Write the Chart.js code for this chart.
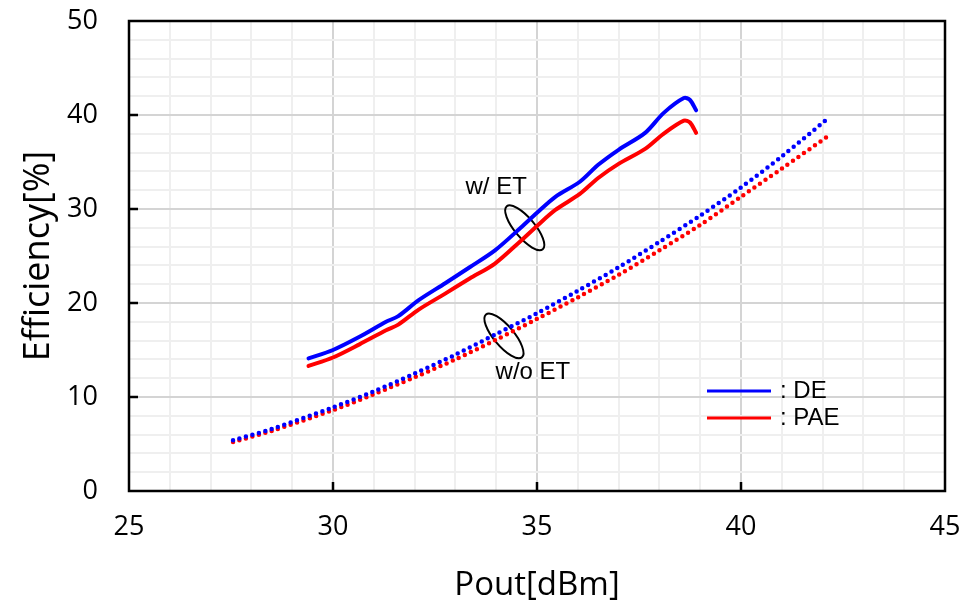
<!DOCTYPE html>
<html>
<head>
<meta charset="utf-8">
<script src="https://cdn.jsdelivr.net/npm/chart.js@4.4.1/dist/chart.umd.min.js"></script>
<style>
  html, body { margin: 0; padding: 0; background: #fff; }
  #wrap { width: 978px; height: 611px; position: relative; }
</style>
</head>
<body>
<div id="wrap"><canvas id="effChart"></canvas></div>
<script>
// Pout [dBm] and efficiency [%]
const etPout = [29.4, 30.0, 30.65, 31.3, 31.6, 32.1, 32.75, 33.35, 33.97, 34.6, 35.0, 35.45, 36.05, 36.5, 37.0, 37.65, 38.1, 38.6, 38.75, 38.9];
const etDE   = [14.1, 15.0, 16.4, 18.0, 18.6, 20.3, 22.1, 23.8, 25.6, 28.0, 29.6, 31.3, 32.9, 34.7, 36.3, 38.1, 40.2, 41.8, 41.6, 40.5];
const etPAE  = [13.3, 14.2, 15.6, 17.1, 17.7, 19.3, 21.0, 22.6, 24.2, 26.6, 28.2, 29.9, 31.6, 33.3, 34.8, 36.4, 38.0, 39.4, 39.2, 38.1];

const noEtPout = [27.55, 28.5, 30, 31, 32, 33, 34, 35, 36, 37, 38, 39, 40, 41, 42.15];
const noEtDE   = [5.4, 6.6, 8.9, 10.6, 12.5, 14.5, 16.7, 18.9, 21.3, 23.8, 26.5, 29.3, 32.3, 35.6, 39.7];
const noEtPAE  = [5.2, 6.4, 8.6, 10.3, 12.1, 14.0, 16.1, 18.3, 20.6, 23.0, 25.6, 28.3, 31.3, 34.3, 37.8];

const xMajor = [25, 30, 35, 40, 45];
const yMajor = [0, 10, 20, 30, 40, 50];

const pts = (xs, ys) => xs.map((x, i) => ({ x: x, y: ys[i] }));

// bracket annotations: [label, label x, label y, ellipse x, ellipse y]
const notes = [
  ["w/ ET", 34.0, 32.3, 34.7, 28.0],
  ["w/o ET", 34.9, 12.6, 34.19, 16.5]
];
const legendItems = [["DE", "#0000ff"], ["PAE", "#ff0000"]];

const DOT = { borderWidth: 4.5, borderDash: [0, 6.7], borderCapStyle: "round", pointRadius: 0, tension: 0.3, fill: false };
const SOLID = { borderWidth: 4, pointRadius: 0, tension: 0.3, fill: false, borderCapStyle: "round" };

const decor = {
  id: "decor",
  beforeDatasetsDraw(chart) {
    const { ctx, scales: { x, y } } = chart;
    ctx.save();
    ctx.strokeStyle = "#000";
    ctx.lineWidth = 2;
    notes.forEach(n => {
      ctx.beginPath();
      ctx.ellipse(x.getPixelForValue(n[3]), y.getPixelForValue(n[4]), 28, 10, 50 * Math.PI / 180, 0, Math.PI * 2);
      ctx.stroke();
    });
    ctx.restore();
  },
  afterDraw(chart) {
    const { ctx, chartArea: a, scales: { x, y } } = chart;
    ctx.save();
    // frame
    ctx.strokeStyle = "#000";
    ctx.lineWidth = 2.5;
    ctx.strokeRect(a.left, a.top, a.right - a.left, a.bottom - a.top);
    // inward tick marks
    ctx.beginPath();
    xMajor.slice(1, -1).forEach(v => {
      const px = x.getPixelForValue(v);
      ctx.moveTo(px, a.bottom); ctx.lineTo(px, a.bottom - 9);
    });
    yMajor.slice(1, -1).forEach(v => {
      const py = y.getPixelForValue(v);
      ctx.moveTo(a.left, py); ctx.lineTo(a.left + 9, py);
    });
    ctx.stroke();
    // text labels
    ctx.fillStyle = "#000";
    ctx.font = "24px 'Liberation Sans', Arial, sans-serif";
    ctx.textAlign = "center";
    ctx.textBaseline = "middle";
    notes.forEach(n => ctx.fillText(n[0], x.getPixelForValue(n[1]), y.getPixelForValue(n[2])));
    // legend
    ctx.textAlign = "left";
    legendItems.forEach((it, i) => {
      const ly = 391 + i * 27;
      ctx.strokeStyle = it[1];
      ctx.lineWidth = 3;
      ctx.beginPath();
      ctx.moveTo(707, ly); ctx.lineTo(771, ly);
      ctx.stroke();
      ctx.fillText(": " + it[0], 780, ly);
    });
    ctx.restore();
  }
};

new Chart(document.getElementById("effChart"), {
  type: "scatter",
  data: {
    datasets: [
      { label: "DE w/o ET", data: pts(noEtPout, noEtDE), borderColor: "#0000ff", showLine: true, ...DOT },
      { label: "PAE w/o ET", data: pts(noEtPout, noEtPAE), borderColor: "#ff0000", showLine: true, ...DOT },
      { label: "DE w/ ET", data: pts(etPout, etDE), borderColor: "#0000ff", showLine: true, ...SOLID },
      { label: "PAE w/ ET", data: pts(etPout, etPAE), borderColor: "#ff0000", showLine: true, ...SOLID }
    ]
  },
  options: {
    responsive: true,
    maintainAspectRatio: false,
    animation: false,
    layout: { padding: { top: 21, right: 33, left: 0, bottom: 0 } },
    plugins: { legend: { display: false }, tooltip: { enabled: false } },
    scales: {
      x: {
        type: "linear",
        min: 25,
        max: 45,
        afterFit: s => { s.height = 120; },
        border: { display: false },
        grid: {
          drawTicks: true,
          tickLength: 20,
          tickColor: "transparent",
          lineWidth: 2,
          color: c => (c.tick.value % 5 === 0 ? "#d4d4d4" : "#efefef")
        },
        ticks: {
          stepSize: 1,
          autoSkip: false,
          maxRotation: 0,
          padding: 0,
          color: "#000",
          font: { family: "'Open Sans'", size: 27 },
          callback: v => (v % 5 === 0 ? v : "")
        },
        title: {
          display: true,
          text: "Pout[dBm]",
          color: "#000",
          font: { family: "'Open Sans'", size: 33 },
          padding: { bottom: 6 }
        }
      },
      y: {
        min: 0,
        max: 50,
        afterFit: s => { s.width = 129; },
        border: { display: false },
        grid: {
          drawTicks: true,
          tickLength: 31,
          tickColor: "transparent",
          lineWidth: 2,
          color: c => (c.tick.value % 10 === 0 ? "#d4d4d4" : "#efefef")
        },
        ticks: {
          stepSize: 2,
          autoSkip: false,
          padding: 0,
          color: "#000",
          font: { family: "'Open Sans'", size: 27 },
          callback: v => (v % 10 === 0 ? v : "")
        },
        title: {
          display: true,
          text: "Efficiency[%]",
          color: "#000",
          font: { family: "'Open Sans'", size: 36 },
          padding: { top: 17 }
        }
      }
    }
  },
  plugins: [decor]
});
</script>
</body>
</html>
